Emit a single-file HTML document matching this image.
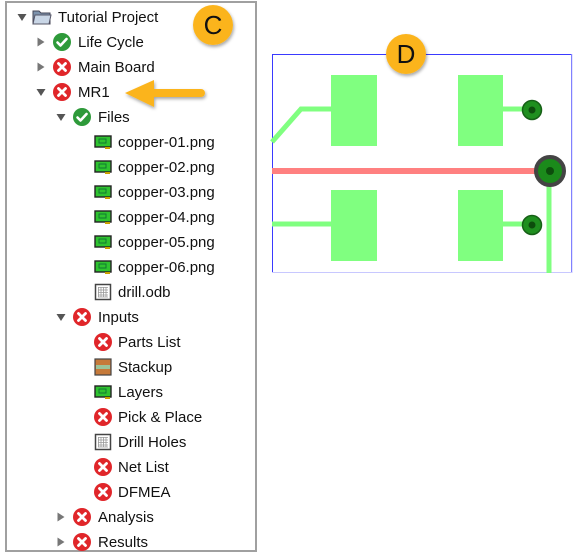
<!DOCTYPE html>
<html><head><meta charset="utf-8"><style>
html,body{margin:0;padding:0;background:#fff;}
svg{display:block;}
text{font-family:"Liberation Sans",sans-serif;font-size:15px;fill:#111;}
</style></head><body>
<svg width="588" height="558" viewBox="0 0 588 558" xmlns="http://www.w3.org/2000/svg">
<defs>
<g id="ok"><circle r="9" fill="#2e9a3a"/><path d="M-4.5 0.5 L-1.5 3.5 L4.5 -3" stroke="#fff" stroke-width="2.6" fill="none" stroke-linecap="round" stroke-linejoin="round"/></g>
<g id="err"><circle r="9" fill="#e0262a"/><path d="M-3.5 -3.5 L3.5 3.5 M3.5 -3.5 L-3.5 3.5" stroke="#fff" stroke-width="2.8" stroke-linecap="round"/></g>
<g id="chip"><rect x="-8" y="-6" width="16" height="11" fill="#2fc42f" stroke="#222" stroke-width="1.4"/><rect x="-4" y="-3" width="7" height="4" fill="none" stroke="#173" stroke-width="1"/><rect x="2" y="5" width="5" height="2" fill="#c9a000"/></g>
<g id="drill"><rect x="-7.5" y="-7.5" width="15" height="15" fill="#fff" stroke="#444" stroke-width="1.5"/><path d="M-5 -4.5H5M-5 -2H5M-5 0.5H5M-5 3H5M-5 5H5M-4.5 -5V5M-2 -5V5M0.5 -5V5M3 -5V5" stroke="#999" stroke-width="0.8"/></g>
<g id="stack"><rect x="-8" y="-8" width="16" height="16" fill="#c67a3a" stroke="#444" stroke-width="1.2"/><rect x="-7" y="-2" width="14" height="4" fill="#9cc49a"/></g>
<path id="tr" d="M-3.5 -4.5 L3.5 0 L-3.5 4.5Z" fill="#777"/>
<path id="td" d="M-4.5 -3 L4.5 -3 L0 4Z" fill="#555"/>
<filter id="sh" x="-30%" y="-30%" width="170%" height="170%"><feDropShadow dx="1" dy="2" stdDeviation="1.5" flood-color="#000" flood-opacity="0.35"/></filter>
</defs>

<rect x="6" y="2" width="250" height="549" fill="#fff" stroke="#a0a0a0" stroke-width="2"/>

<use href="#td" x="22" y="17"/>
<g transform="translate(42,17)"><path d="M-9 -6 h6 l2 2 h9 v11 h-17z" fill="#7d93ad" stroke="#445" stroke-width="1"/><path d="M-7 -2 h16 l-2 9 h-16z" fill="#c9d6e6" stroke="#556" stroke-width="1"/></g>
<text x="58" y="22">Tutorial Project</text>

<use href="#tr" x="41" y="42"/><use href="#ok" x="62" y="42"/><text x="78" y="47">Life Cycle</text>
<use href="#tr" x="41" y="67"/><use href="#err" x="62" y="67"/><text x="78" y="72">Main Board</text>
<use href="#td" x="41" y="92"/><use href="#err" x="62" y="92"/><text x="78" y="97">MR1</text>
<use href="#td" x="61" y="117"/><use href="#ok" x="82" y="117"/><text x="98" y="122">Files</text>

<use href="#chip" x="103" y="142"/><text x="118" y="147">copper-01.png</text>
<use href="#chip" x="103" y="167"/><text x="118" y="172">copper-02.png</text>
<use href="#chip" x="103" y="192"/><text x="118" y="197">copper-03.png</text>
<use href="#chip" x="103" y="217"/><text x="118" y="222">copper-04.png</text>
<use href="#chip" x="103" y="242"/><text x="118" y="247">copper-05.png</text>
<use href="#chip" x="103" y="267"/><text x="118" y="272">copper-06.png</text>
<use href="#drill" x="103" y="292"/><text x="118" y="297">drill.odb</text>

<use href="#td" x="61" y="317"/><use href="#err" x="82" y="317"/><text x="98" y="322">Inputs</text>
<use href="#err" x="103" y="342"/><text x="118" y="347">Parts List</text>
<use href="#stack" x="103" y="367"/><text x="118" y="372">Stackup</text>
<use href="#chip" x="103" y="392"/><text x="118" y="397">Layers</text>
<use href="#err" x="103" y="417"/><text x="118" y="422">Pick &amp; Place</text>
<use href="#drill" x="103" y="442"/><text x="118" y="447">Drill Holes</text>
<use href="#err" x="103" y="467"/><text x="118" y="472">Net List</text>
<use href="#err" x="103" y="492"/><text x="118" y="497">DFMEA</text>
<use href="#tr" x="61" y="517"/><use href="#err" x="82" y="517"/><text x="98" y="522">Analysis</text>
<use href="#tr" x="61" y="542"/><use href="#err" x="82" y="542"/><text x="98" y="547">Results</text>

<g filter="url(#sh)" fill="#fbb41f">
<rect x="145" y="89" width="60" height="8" rx="4"/>
<path d="M125 93 L154 80 L154 107 Z"/>
</g>
<circle cx="213" cy="25" r="20" fill="#fbb41f" filter="url(#sh)"/>
<text x="213" y="34" text-anchor="middle" style="font-size:26px">C</text>

<rect x="272.5" y="54.5" width="299" height="218" fill="#fff" stroke="#3a3aff" stroke-width="1"/>
<line x1="572" y1="54" x2="572" y2="273" stroke="#c8c8ff" stroke-width="1"/>
<line x1="272" y1="272.5" x2="572" y2="272.5" stroke="#c8c8ff" stroke-width="1"/>
<g fill="#80ff80">
<rect x="331" y="75" width="46" height="71"/>
<rect x="458" y="75" width="45" height="71"/>
<rect x="331" y="190" width="46" height="71"/>
<rect x="458" y="190" width="45" height="71"/>
</g>
<g stroke="#80ff80" stroke-width="5" fill="none">
<path d="M272 142 L301 109 L331 109"/>
<path d="M503 109 L532 109"/>
<path d="M272 224 L331 224"/>
<path d="M503 224 L532 224"/>
<path d="M549 171 L549 273"/>
</g>
<rect x="272" y="168" width="278" height="6" fill="#ff8080"/>
<circle cx="550" cy="171" r="14" fill="#1b8a1b" stroke="#444" stroke-width="4"/>
<circle cx="550" cy="171" r="4" fill="#0d4d0d"/>
<circle cx="532" cy="110" r="9.5" fill="#1f8f1f" stroke="#176017" stroke-width="1.5"/>
<circle cx="532" cy="110" r="3.5" fill="#0d4d0d"/>
<circle cx="532" cy="225" r="9.5" fill="#1f8f1f" stroke="#176017" stroke-width="1.5"/>
<circle cx="532" cy="225" r="3.5" fill="#0d4d0d"/>

<circle cx="406" cy="54" r="20" fill="#fbb41f" filter="url(#sh)"/>
<text x="406" y="63" text-anchor="middle" style="font-size:26px">D</text>
</svg>
</body></html>
